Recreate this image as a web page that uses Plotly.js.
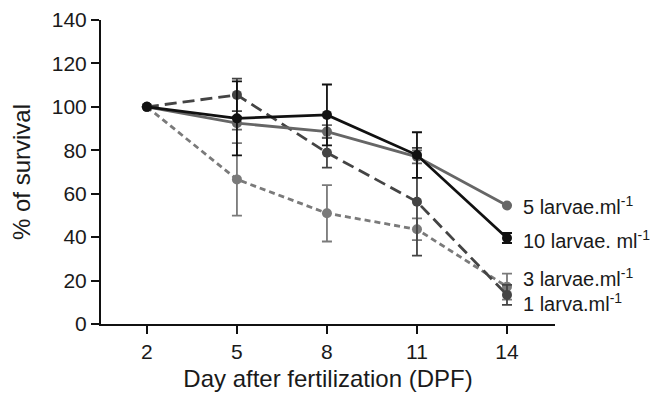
<!DOCTYPE html>
<html>
<head>
<meta charset="utf-8">
<script src="https://cdn.plot.ly/plotly-3.0.1.min.js"></script>
<style>html,body{margin:0;padding:0;background:#fff;}#chart{width:655px;height:393px;}</style>
</head>
<body>
<div id="chart"></div>
<script>
const days = [2, 5, 8, 11, 14];
const tickLabels = ["2", "5", "8", "11", "14"];

const larva1 = [100, 105.5, 78.9, 56.3, 13.4];
const larva1Err = [0, 7.5, 6.9, 24.8, 4.6];

const larvae3 = [100, 66.6, 51.0, 43.6, 17.2];
const larvae3Err = [0, 16.7, 13.0, 5.0, 6.0];

const larvae5 = [100, 92.5, 88.6, 77.0, 54.6];
const larvae5Err = [0, 3, 3, 3, 0];

const larvae10 = [100, 94.7, 96.3, 77.8, 39.6];
const larvae10Err = [0, 17.0, 14.0, 10.5, 2.3];

const seriesNames = ["1 larva.ml<sup>-1</sup>", "3 larvae.ml<sup>-1</sup>", "5 larvae.ml<sup>-1</sup>", "10 larvae. ml<sup>-1</sup>"];

function trace(y, err, color, dash, name) {
  return {
    x: days, y: y, type: 'scatter', mode: 'lines+markers', name: name,
    line: {color: color, width: 2.8, dash: dash},
    marker: {color: color, size: 10, symbol: 'circle'},
    error_y: {type: 'data', array: err, visible: true, color: color, thickness: 1.8, width: 5},
    cliponaxis: false
  };
}

const data = [
  trace(larvae3, larvae3Err, '#7a7a7a', '6px,4px', seriesNames[1]),
  trace(larva1, larva1Err, '#444444', '12px,6px', seriesNames[0]),
  trace(larvae5, larvae5Err, '#666666', 'solid', seriesNames[2]),
  trace(larvae10, larvae10Err, '#111111', 'solid', seriesNames[3])
];

const labelFont = {family: 'Liberation Sans, Arial, sans-serif', size: 20, color: '#1a1a1a'};
const annotations = [
  {x: 14, y: larvae5[4], text: seriesNames[2], yshift: 0},
  {x: 14, y: larvae10[4], text: seriesNames[3], yshift: -1},
  {x: 14, y: larvae3[4], text: seriesNames[1], yshift: 9},
  {x: 14, y: larva1[4], text: seriesNames[0], yshift: -8}
].map(a => Object.assign({xref: 'x', yref: 'y', showarrow: false, xanchor: 'left', xshift: 15, borderpad: 0, font: labelFont}, a));

const layout = {
  width: 655, height: 393,
  margin: {l: 101, r: 100, t: 20, b: 69},
  paper_bgcolor: '#fff', plot_bgcolor: '#fff',
  showlegend: false,
  font: {family: 'Liberation Sans, Arial, sans-serif', color: '#1a1a1a'},
  xaxis: {
    range: [0.47, 15.6], tickvals: days, ticktext: tickLabels,
    showgrid: false, zeroline: false, showline: true, linecolor: '#111', linewidth: 2,
    ticks: 'outside', ticklen: 8, tickwidth: 2, tickcolor: '#111',
    tickfont: {size: 21, color: '#1a1a1a'},
    title: {text: 'Day after fertilization (DPF)', font: {size: 24, color: '#1a1a1a'}, standoff: 8}
  },
  yaxis: {
    range: [0, 140], tickvals: [0, 20, 40, 60, 80, 100, 120, 140],
    showgrid: false, zeroline: false, showline: true, linecolor: '#111', linewidth: 2,
    ticks: 'outside', ticklen: 8, tickwidth: 2, tickcolor: '#111',
    tickfont: {size: 21, color: '#1a1a1a'},
    title: {text: '% of survival', font: {size: 24, color: '#1a1a1a'}, standoff: 14}
  },
  annotations: annotations
};

Plotly.newPlot('chart', data, layout, {displayModeBar: false, staticPlot: true});
</script>
</body>
</html>
